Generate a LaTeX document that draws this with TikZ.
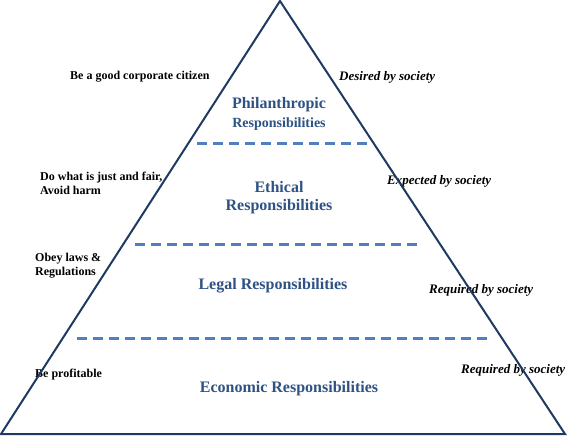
\documentclass[tikz,border=0pt]{standalone}
\usepackage{fontspec}
\setmainfont{Liberation Serif}
\usepackage{tikz}
\definecolor{navy}{HTML}{1F3A60}
\definecolor{dashblue}{HTML}{4F7FBF}
\definecolor{titleblue}{HTML}{2E5283}
\tikzset{
	level/.style={text=titleblue, font=\fontsize{16}{19}\selectfont\bfseries, align=center, inner sep=0pt},
	duty/.style={anchor=west, font=\fontsize{12}{14}\selectfont\bfseries, align=left, inner sep=0pt},
	judge/.style={anchor=west, font=\fontsize{13}{15}\selectfont\bfseries\itshape, inner sep=0pt},
	divider/.style={dashblue, line width=3pt, dash pattern=on 10pt off 6pt}
}

\begin{document}
\begin{tikzpicture}[x=1pt,y=-1pt]
	\useasboundingbox (0,0) rectangle (567,436);

	\coordinate (top) at (280, 1);
	\coordinate (bl) at (1, 434);
	\coordinate (br) at (565, 434);

	\coordinate (d1a) at (197, 143);
	\coordinate (d1b) at (372, 143);
	\coordinate (d2a) at (135, 244);
	\coordinate (d2b) at (420, 244);
	\coordinate (d3a) at (77, 338);
	\coordinate (d3b) at (489, 338);

	\node[level] (phil) at (279, 105) {Philanthropic};
	\node[level, font=\fontsize{14}{16}\selectfont\bfseries] (phil2) at (279, 124) {Responsibilities};
	\node[level] (eth) at (279, 187) {Ethical};
	\node[level] (eth2) at (279, 207) {Responsibilities};
	\node[level] (leg) at (273, 286) {Legal Responsibilities};
	\node[level] (eco) at (289, 389) {Economic Responsibilities};

	\node[duty] (l1) at (70, 77) {Be a good corporate citizen};
	\node[duty] (l2) at (40, 183) {Do what is just and fair,\\Avoid harm};
	\node[duty] (l3) at (35, 266) {Obey laws \&\\Regulations};
	\node[duty] (l4) at (35, 375) {Be profitable};

	\node[judge] (r1) at (339, 77) {Desired by society};
	\node[judge] (r2) at (387, 181) {Expected by society};
	\node[judge] (r3) at (429, 290) {Required by society};
	\node[judge] (r4) at (461, 370) {Required by society};

	\draw[navy, line width=2pt] (top) -- (bl) -- (br) -- cycle;

	\begin{scope}[every path/.style={divider}]
		\draw (d1a) -- (d1b);
		\draw (d2a) -- (d2b);
		\draw (d3a) -- (d3b);
	\end{scope}
\end{tikzpicture}
\end{document}
